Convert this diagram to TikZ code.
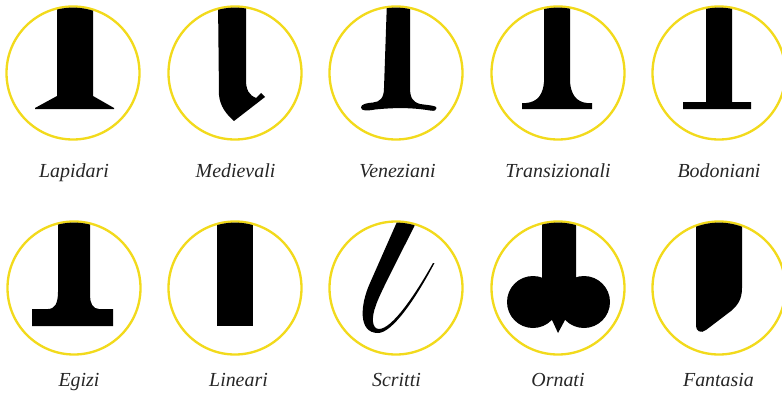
\documentclass[tikz,border=0pt]{standalone}
\usepackage{fontspec}
\setmainfont{Liberation Serif}
\definecolor{ringyellow}{HTML}{F2DA1C}
\tikzset{
  ring/.style={circle, draw=ringyellow, line width=2pt, minimum size=3.99cm, inner sep=0pt, outer sep=0pt},
  classname/.style={anchor=base, inner sep=0pt, font=\fontsize{17}{20}\selectfont\itshape, text=black!85},
  stem/.style={fill=black}
}
\begin{document}
\begin{tikzpicture}[x=0.03cm, y=-0.03cm]
\useasboundingbox (0,0) rectangle (782,394);

% First row
\node[ring] (lapidari) at (73,73) {};
\node[ring] (medievali) at (235,73) {};
\node[ring] (veneziani) at (396,73) {};
\node[ring] (transizionali) at (558,73) {};
\node[ring] (bodoniani) at (719,73) {};

% Second row
\node[ring] (egizi) at (74,288) {};
\node[ring] (lineari) at (235,288) {};
\node[ring] (scritti) at (396,288) {};
\node[ring] (ornati) at (558,288) {};
\node[ring] (fantasia) at (719,288) {};

% Names
\node[classname] (lapidaritext) at (74,177) {Lapidari};
\node[classname] (medievalitext) at (235.5,177) {Medievali};
\node[classname] (venezianitext) at (397.5,177) {Veneziani};
\node[classname] (transizionalitext) at (558,177) {Transizionali};
\node[classname] (bodonianitext) at (719,177) {Bodoniani};
\node[classname] (egizitext) at (79,386) {Egizi};
\node[classname] (linearitext) at (238.5,386) {Lineari};
\node[classname] (scrittitext) at (396.5,386) {Scritti};
\node[classname] (ornatitext) at (558,386) {Ornati};
\node[classname] (fantasiatext) at (718.5,386) {Fantasia};

% Lapidari
\begin{scope}
\clip (lapidari.center) circle (65.4);
\fill[stem] (57,0) -- (57,96) -- (35,108) -- (35,109) -- (114,109) -- (114,108) -- (93,96) -- (93,0) -- cycle;
\end{scope}

% Medievali
\begin{scope}
\clip (medievali.center) circle (65.4);
\fill[stem] (218,0) -- (219,95) .. controls (220,106) and (226,114) .. (234,121) -- (265,97) -- (261,93) -- (256,98)
  .. controls (249,95) and (246,90) .. (246,80) -- (246,0) -- cycle;
\end{scope}

% Veneziani
\begin{scope}
\clip (veneziani.center) circle (65.4);
\fill[stem] (387,0) -- (384,88) .. controls (384,98) and (380,102) .. (373,102.5) .. controls (367,103) and (361,104) .. (361,107.5)
  .. controls (361,111) and (367,111) .. (375,109.5) .. controls (395,107.5) and (412,107.5) .. (430,110.5)
  .. controls (435,111.5) and (436.5,110) .. (436.5,108) .. controls (436.5,105.5) and (430,105.5) .. (420,104)
  .. controls (413,102) and (410,98) .. (410,88) -- (410,0) -- cycle;
\end{scope}

% Transizionali
\begin{scope}
\clip (transizionali.center) circle (65.4);
\fill[stem] (544,0) -- (544,82) .. controls (543,94) and (538,102) .. (526,103) -- (522,103) -- (522,109) -- (592,109) -- (592,103)
  -- (587,103) .. controls (576,102) and (571,94) .. (570,82) -- (570,0) -- cycle;
\end{scope}

% Bodoniani
\begin{scope}
\clip (bodoniani.center) circle (65.4);
\fill[stem] (706,0) -- (706,102) -- (683,102) -- (683,109) -- (751,109) -- (751,102) -- (732,102) -- (732,0) -- cycle;
\end{scope}

% Egizi
\begin{scope}
\clip (egizi.center) circle (65.4);
\fill[stem] (58,200) -- (58,292) .. controls (58,303) and (55,309) .. (48,309) -- (32,309) -- (32,326) -- (113,326) -- (113,309)
  -- (99,309) .. controls (93,309) and (90,303) .. (90,296) -- (90,200) -- cycle;
\end{scope}

% Lineari
\begin{scope}
\clip (lineari.center) circle (65.4);
\fill[stem] (217,200) rectangle (253,326);
\end{scope}

% Scritti
\begin{scope}
\clip (scritti.center) circle (65.4);
\fill[stem] (400,215) -- (370,283) .. controls (360,305) and (358,333) .. (378,333)
  .. controls (392,333) and (415,300) .. (434.5,263) -- (433,263)
  .. controls (415,295) and (392,329) .. (379,329) .. controls (372,329) and (371,318) .. (376,305)
  .. controls (380,293) and (400,255) .. (420,215) -- cycle;
\end{scope}

% Ornati
\begin{scope}
\clip (ornati.center) circle (65.4);
\fill[stem] (533,302) circle (26);
\fill[stem] (584,302) circle (26);
\fill[stem] (542,200) -- (542,300) -- (552,320) -- (558,333) -- (565,320) -- (576,300) -- (576,200) -- cycle;
\end{scope}

% Fantasia
\begin{scope}
\clip (fantasia.center) circle (65.4);
\fill[stem] (696,200) -- (696,326) .. controls (696,331) and (701,334) .. (706,330) -- (731,311)
  .. controls (738,305) and (742,299) .. (742,288) -- (742,200) -- cycle;
\end{scope}

\end{tikzpicture}
\end{document}
